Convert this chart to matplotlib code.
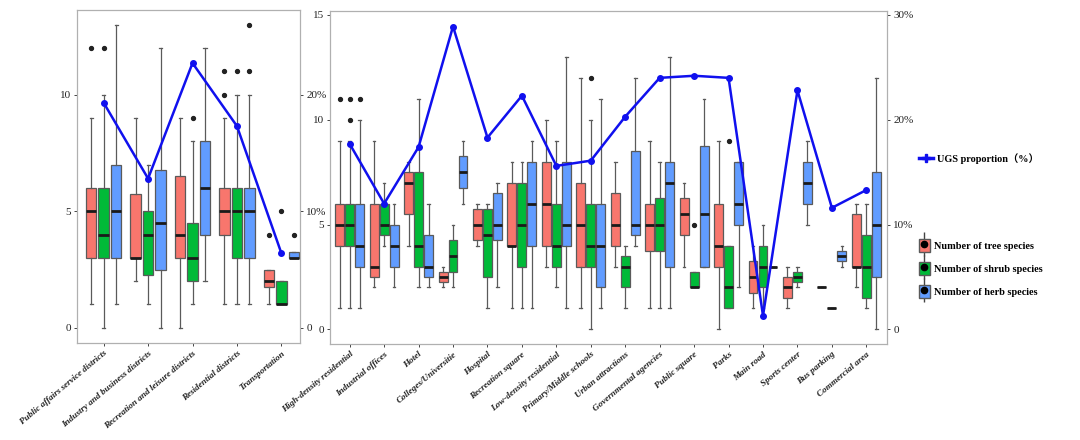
import matplotlib
matplotlib.use("Agg")
import matplotlib.pyplot as plt
from matplotlib.lines import Line2D
from matplotlib.patches import Patch

# ---- left panel: land-use groups ----
cats_L = ['Public affairs service districts', 'Industry and business districts',
          'Recreation and leisure districts', 'Residential districts', 'Transportation']

tree_L_q1 = [3, 3, 3, 4, 1.75]
tree_L_med = [5, 3, 4, 5, 2]
tree_L_q3 = [6, 5.75, 6.5, 6, 2.5]
tree_L_lo = [1, 2, 0, 1, 1]
tree_L_hi = [9, 9, 9, 9, 2.5]
tree_L_fl = [[12], [], [], [10, 11], [4]]

shrub_L_q1 = [3, 2.25, 2, 3, 1]
shrub_L_med = [4, 4, 3, 5, 1]
shrub_L_q3 = [6, 5, 4.5, 6, 2]
shrub_L_lo = [0, 1, 1, 1, 1]
shrub_L_hi = [10, 7, 8, 10, 2]
shrub_L_fl = [[12], [], [9], [11], [5]]

herb_L_q1 = [3, 2.5, 4, 3, 3]
herb_L_med = [5, 4.5, 6, 5, 3]
herb_L_q3 = [7, 6.75, 8, 6, 3.25]
herb_L_lo = [1, 0, 2, 1, 3]
herb_L_hi = [13, 12, 12, 10, 3.25]
herb_L_fl = [[], [], [], [11, 13], [4]]

ugs_L = [19.3, 12.8, 22.7, 17.3, 6.4]

# ---- right panel: detailed types ----
cats_R = ['High-density residential', 'Industrial offices', 'Hotel', 'Colleges/Universitie',
          'Hospital', 'Recreation square', 'Low-density residential', 'Primary/Middle schools',
          'Urban attractions', 'Governmental agencies', 'Public square', 'Parks', 'Main road',
          'Sports center', 'Bus parking', 'Commercial area']

tree_R_q1 = [4, 2.5, 5.5, 2.25, 4.25, 4, 4, 3, 4, 3.75, 4.5, 3, 1.75, 1.5, 2, 3]
tree_R_med = [5, 3, 7, 2.5, 5, 4, 6, 5, 5, 5, 5.5, 4, 2.5, 2, 2, 3]
tree_R_q3 = [6, 6, 7.5, 2.75, 5.75, 7, 8, 7, 6.5, 6, 6.25, 6, 3.25, 2.5, 2, 5.5]
tree_R_lo = [1, 2, 4, 2, 4, 1, 3, 1, 3, 1, 3, 0, 1, 1, 2, 2]
tree_R_hi = [9, 9, 8, 3, 6, 8, 10, 12, 8, 9, 7, 9, 4, 3, 2, 6]
tree_R_fl = [[11], [], [], [], [], [], [], [], [], [], [], [], [], [], [], []]

shrub_R_q1 = [4, 4.5, 3, 2.75, 2.5, 3, 3, 3, 2, 3.75, 2, 1, 2, 2.25, 1, 1.5]
shrub_R_med = [5, 5, 4, 3.5, 4.5, 5, 4, 4, 3, 5, 2, 2, 3, 2.5, 1, 3]
shrub_R_q3 = [6, 6, 7.5, 4.25, 5.75, 7, 6, 6, 3.5, 6.25, 2.75, 4, 4, 2.75, 1, 4.5]
shrub_R_lo = [1, 4, 2, 2, 1, 1, 2, 0, 1, 1, 2, 1, 1, 2, 1, 1]
shrub_R_hi = [9, 7, 11, 5, 6, 8, 9, 10, 4, 8, 2.75, 4, 5, 3, 1, 6]
shrub_R_fl = [[10, 11], [], [], [], [], [], [], [12], [], [], [5], [9], [], [], [], []]

herb_R_q1 = [3, 3, 2.5, 6.75, 4.25, 4, 4, 2, 4.5, 3, 3, 5, 3, 6, 3.25, 2.5]
herb_R_med = [4, 4, 3, 7.5, 5, 6, 5, 4, 5, 7, 5.5, 6, 3, 7, 3.5, 5]
herb_R_q3 = [6, 5, 4.5, 8.25, 6.5, 8, 8, 6, 8.5, 8, 8.75, 8, 3, 8, 3.75, 7.5]
herb_R_lo = [1, 2, 2, 6, 2, 1, 1, 1, 4, 1, 3, 2, 3, 5, 3, 0]
herb_R_hi = [10, 6, 6, 9, 7, 9, 13, 11, 12, 13, 11, 8, 3, 9, 4, 12]
herb_R_fl = [[11], [], [], [], [], [], [], [], [], [], [], [], [], [], [], []]

ugs_R = [17.7, 12.0, 17.4, 28.9, 18.3, 22.3, 15.6, 16.1, 20.3, 24.0, 24.2, 24.0, 1.3, 22.8, 11.6, 13.3]

c_tree, c_shrub, c_herb = '#F8766D', '#00BA38', '#619CFF'
serif = ['Liberation Serif', 'DejaVu Serif']
frame = '#b0b0b0'


def stats(q1, med, q3, lo, hi, fl):
    return [dict(q1=a, med=b, q3=c, whislo=d, whishi=e, fliers=f)
            for a, b, c, d, e, f in zip(q1, med, q3, lo, hi, fl)]


def draw_boxes(ax, st, pos, color, width):
    ax.bxp(st, positions=pos, widths=width, patch_artist=True, capwidths=width * 0.3,
           boxprops=dict(facecolor=color, edgecolor='#5a5a5a', linewidth=0.9),
           medianprops=dict(color='#1a1a1a', linewidth=2),
           whiskerprops=dict(color='#5a5a5a', linewidth=0.9),
           capprops=dict(color='#5a5a5a', linewidth=0.9),
           flierprops=dict(marker='o', markerfacecolor='#222222', markeredgecolor='#222222',
                           markersize=2.8))


def style(ax, ax2, cats, ylim, pticks):
    ax.set_ylim(ylim)
    ax2.set_ylim(ylim[0] * 2, ylim[1] * 2)
    ax2.set_yticks(pticks)
    ax2.set_yticklabels(['0' if p == 0 else '%d%%' % p for p in pticks])
    for a in (ax, ax2):
        for s in a.spines.values():
            s.set_color(frame)
        a.tick_params(colors='#444444', length=2.5, width=0.7, pad=2)
        a.tick_params(axis='y', labelsize=8)
        for lab in a.get_yticklabels():
            lab.set_family(serif)
            lab.set_color('#222222')
    ax.set_xticks(range(1, len(cats) + 1))
    ax.set_xticklabels(cats, rotation=40, ha='right', rotation_mode='anchor',
                       fontsize=6.6, fontweight='bold', fontstyle='italic', family=serif,
                       color='#222222')


fig = plt.figure(figsize=(10.8, 4.4), dpi=100)

# left panel
axL = fig.add_axes([0.0713, 0.2205, 0.2065, 0.757])
pos = list(range(1, len(cats_L) + 1))
dw, bw = 0.28, 0.235
draw_boxes(axL, stats(tree_L_q1, tree_L_med, tree_L_q3, tree_L_lo, tree_L_hi, tree_L_fl),
           [p - dw for p in pos], c_tree, bw)
draw_boxes(axL, stats(shrub_L_q1, shrub_L_med, shrub_L_q3, shrub_L_lo, shrub_L_hi, shrub_L_fl),
           pos, c_shrub, bw)
draw_boxes(axL, stats(herb_L_q1, herb_L_med, herb_L_q3, herb_L_lo, herb_L_hi, herb_L_fl),
           [p + dw for p in pos], c_herb, bw)
axL.set_yticks([0, 5, 10])
axL2 = axL.twinx()
axL2.plot(pos, ugs_L, color='#1010ee', lw=1.8, marker='o', ms=4)
axL.set_xlim(0.4, 5.42)
style(axL, axL2, cats_L, (-0.65, 13.63), [0, 10, 20])

# right panel
axR = fig.add_axes([0.3056, 0.218, 0.5157, 0.7575])
pos = list(range(1, len(cats_R) + 1))
dw, bw = 0.29, 0.26
draw_boxes(axR, stats(tree_R_q1, tree_R_med, tree_R_q3, tree_R_lo, tree_R_hi, tree_R_fl),
           [p - dw for p in pos], c_tree, bw)
draw_boxes(axR, stats(shrub_R_q1, shrub_R_med, shrub_R_q3, shrub_R_lo, shrub_R_hi, shrub_R_fl),
           pos, c_shrub, bw)
draw_boxes(axR, stats(herb_R_q1, herb_R_med, herb_R_q3, herb_R_lo, herb_R_hi, herb_R_fl),
           [p + dw for p in pos], c_herb, bw)
axR.set_yticks([0, 5, 10, 15])
axR2 = axR.twinx()
axR2.plot(pos, ugs_R, color='#1010ee', lw=1.8, marker='o', ms=4)
axR.set_xlim(0.43, 16.6)
style(axR, axR2, cats_R, (-0.7, 15.2), [0, 10, 20, 30])

# legends
leg_font = dict(family=serif + ['Noto Sans CJK SC'], weight='bold', size=7.4)
h_line = Line2D([], [], color='#1010ee', lw=2.5, marker='P', ms=6)
fig.legend([h_line], ['UGS proportion（%）'], loc='center left', bbox_to_anchor=(0.842, 0.64),
           frameon=False, prop=leg_font, handlelength=1.4, handletextpad=0.4)


def box_key(c):
    return (Line2D([], [], color='#444444', marker='|', ms=17, ls=''),
            Patch(facecolor=c, edgecolor='#5a5a5a'),
            Line2D([], [], color='black', marker='o', ms=4.5, ls=''))


fig.legend([box_key(c_tree), box_key(c_shrub), box_key(c_herb)],
           ['Number of tree species', 'Number of shrub species', 'Number of herb species'],
           loc='center left', bbox_to_anchor=(0.842, 0.39), frameon=False, prop=leg_font,
           handlelength=1.1, handleheight=1.6, handletextpad=0.4, labelspacing=0.95)

fig.savefig('out.png', dpi=100)
